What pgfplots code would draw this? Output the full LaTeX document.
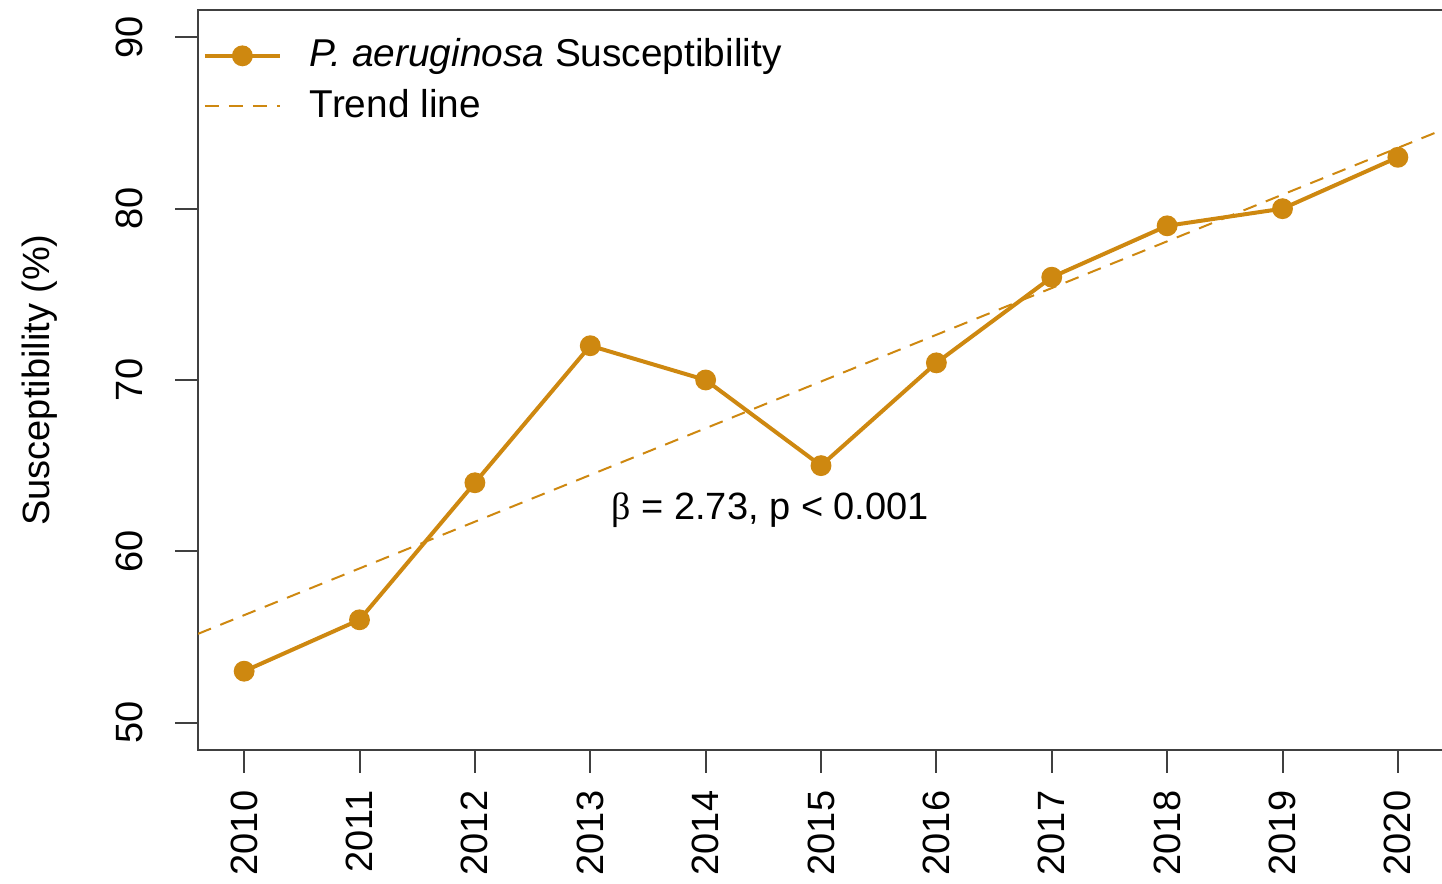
\documentclass[border=0pt]{standalone}
\usepackage{fontspec}
\setmainfont{Liberation Sans}
\newfontfamily\serifsym{Liberation Serif}
\usepackage{pgfplots}
\pgfplotsset{compat=1.18}
\definecolor{gold}{RGB}{206,136,16}
\begin{document}
\begin{tikzpicture}
\begin{axis}[
  name=ax,
  scale only axis,
  width=311.5pt, height=185pt,
  xmin=2009.6, xmax=2020.4,
  ymin=48.4, ymax=91.6,
  xtick={2010,2011,2012,2013,2014,2015,2016,2017,2018,2019,2020},
  ytick={50,60,70,80,90},
  tick pos=left,
  tick align=outside,
  major tick length=5.75pt,
  every tick/.style={black!75, line width=0.5pt},
  axis line style={black!75, line width=0.5pt},
  font=\fontsize{9.5}{11}\selectfont,
  /pgf/number format/assume math mode=true,
  /pgf/number format/1000 sep={},
  xticklabel style={rotate=90, anchor=east, inner sep=0pt, font=\fontsize{9.5}{11}\selectfont},
  xticklabel shift=4.25pt,
  yticklabel style={rotate=90, anchor=south, inner sep=0pt, font=\fontsize{9.5}{11}\selectfont},
  yticklabel shift=7.75pt,
  ylabel={Susceptibility (\%)},
  ylabel style={at={(axis description cs:-0.1124,0.5)}, anchor=south, inner sep=0pt, rotate=0},
  legend style={draw=none, fill=none, at={(axis description cs:0,1)}, anchor=north west,
    font=\fontsize{9.7}{11}\selectfont, row sep=0pt, inner xsep=1.0pt, inner ysep=5pt,
    /tikz/every odd column/.append style={column sep=5pt}},
  legend cell align=left,
  legend image code/.code={\draw[mark repeat=2,mark phase=2,#1] plot coordinates {(0pt,0pt) (9.4pt,0pt) (18.75pt,0pt)};},
]
\addplot[gold, line width=1pt, mark=*, mark size=2.1pt, mark options={solid, fill=gold, draw=gold}]
  coordinates {(2010,53) (2011,56) (2012,64) (2013,72) (2014,70) (2015,65) (2016,71) (2017,76) (2018,79) (2019,80) (2020,83)};
\addlegendentry{\textit{P. aeruginosa} Susceptibility}
\addplot[gold, line width=0.5pt, dash pattern=on 3.5pt off 2.5pt]
  coordinates {(2009.6,55.18) (2020.4,84.64)};
\addlegendentry{Trend line}
\node[font=\fontsize{9.5}{11}\selectfont] at (axis cs:2014.56,62.42) {{\serifsym β} = 2.73, p < 0.001};
\end{axis}
\pgfresetboundingbox
\path ([shift={(-49.5pt,-33.5pt)}]ax.south west) rectangle ([shift={(-0.5pt,2.5pt)}]ax.north east);
\end{tikzpicture}
\end{document}
